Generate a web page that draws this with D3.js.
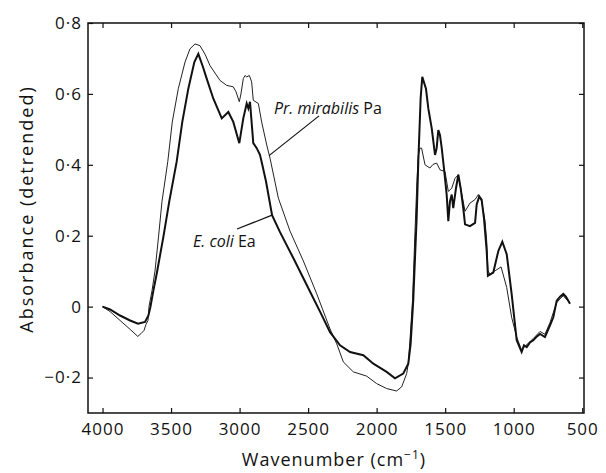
<!DOCTYPE html>
<html>
<head>
<meta charset="utf-8">
<script src="https://cdn.jsdelivr.net/npm/d3@7"></script>
<style>
  body { margin: 0; background: #fff; }
  text { font-family: "Open Sans", "Noto Sans", sans-serif; fill: #111; }
</style>
</head>
<body>
<div id="container"></div>
<script>
const width = 606,
    height = 473,
    margin = { top: 23, bottom: 60, left: 88, right: 22 };

// wavenumber (cm-1) and absorbance
const ecoliWave = [4000, 3945, 3872, 3799, 3741, 3690, 3665, 3650, 3629, 3605, 3555, 3513, 3459, 3418, 3374, 3330, 3301,
    3267, 3240, 3192, 3130, 3082, 3046, 3002, 2973, 2948, 2936, 2924, 2900, 2875, 2851, 2836, 2807, 2763,
    2705, 2608, 2510, 2413, 2340, 2267, 2194, 2097, 2024, 1927, 1866, 1806, 1769, 1752, 1733, 1708, 1696,
    1679, 1667, 1640, 1623, 1598, 1574, 1562, 1550, 1538, 1525, 1509, 1489, 1477, 1465, 1452, 1441, 1421,
    1404, 1387, 1368, 1355, 1319, 1282, 1270, 1251, 1234, 1217, 1197, 1188, 1149, 1112, 1083, 1051, 1015,
    978, 942, 925, 905, 881, 857, 830, 808, 772, 735, 711, 686, 662, 638, 619, 589]
const ecoliAbs = [0, -0.008, -0.025, -0.039, -0.048, -0.043, -0.025, 0, 0.045, 0.092, 0.199, 0.297, 0.409, 0.521, 0.615, 0.690, 0.713,
    0.676, 0.643, 0.587, 0.531, 0.549, 0.521, 0.461, 0.531, 0.573, 0.559, 0.578, 0.461, 0.447, 0.428, 0.403, 0.353, 0.258,
    0.210, 0.137, 0.061, -0.014, -0.072, -0.109, -0.128, -0.137, -0.161, -0.184, -0.202, -0.189, -0.161, -0.105, 0.017, 0.250, 0.409,
    0.587, 0.648, 0.615, 0.559, 0.503, 0.428, 0.447, 0.498, 0.484, 0.447, 0.391, 0.316, 0.241, 0.297, 0.316, 0.278, 0.334,
    0.372, 0.334, 0.278, 0.232, 0.227, 0.236, 0.288, 0.311, 0.302, 0.250, 0.157, 0.087, 0.096, 0.157, 0.183, 0.148, 0.036,
    -0.095, -0.128, -0.109, -0.114, -0.101, -0.095, -0.084, -0.077, -0.086, -0.053, -0.030, 0.017, 0.028, 0.036, 0.028, 0.008]

const mirabilisWave = [4000, 3945, 3872, 3799, 3743, 3719, 3697, 3683, 3668, 3661, 3639, 3617, 3591, 3566, 3524, 3491, 3447, 3398,
    3362, 3325, 3289, 3252, 3216, 3143, 3094, 3046, 3026, 3002, 2990, 2973, 2960, 2948, 2929, 2912, 2900, 2863,
    2839, 2802, 2778, 2717, 2632, 2535, 2437, 2340, 2291, 2243, 2170, 2073, 2000, 1927, 1854, 1817, 1781, 1769,
    1757, 1738, 1720, 1706, 1696, 1684, 1672, 1647, 1611, 1589, 1562, 1538, 1501, 1477, 1452, 1428, 1404, 1387,
    1355, 1319, 1282, 1258, 1234, 1209, 1197, 1188, 1173, 1136, 1092, 1051, 1015, 978, 942, 918, 896, 857, 808,
    772, 735, 711, 686, 662, 638, 619, 589]
const mirabilisAbs = [0, -0.014, -0.039, -0.064, -0.084, -0.076, -0.067, -0.050, -0.039, 0, 0.045, 0.101, 0.199, 0.297, 0.409, 0.521, 0.615, 0.690,
    0.727, 0.741, 0.736, 0.712, 0.680, 0.638, 0.624, 0.620, 0.606, 0.578, 0.600, 0.643, 0.652, 0.648, 0.652, 0.634, 0.582, 0.573,
    0.521, 0.456, 0.419, 0.306, 0.213, 0.129, 0.036, -0.063, -0.105, -0.156, -0.184, -0.196, -0.217, -0.231, -0.238, -0.226, -0.189, -0.161,
    -0.095, 0.017, 0.213, 0.353, 0.428, 0.447, 0.447, 0.400, 0.391, 0.401, 0.405, 0.386, 0.381, 0.325, 0.334, 0.362, 0.372, 0.334,
    0.269, 0.292, 0.302, 0.316, 0.297, 0.241, 0.185, 0.101, 0.092, 0.101, 0.112, 0.054, -0.030, -0.086, -0.123, -0.112, -0.104, -0.090, -0.070,
    -0.078, -0.045, -0.017, 0.011, 0.022, 0.031, 0.022, 0.011]

const xTicks = [4000, 3500, 3000, 2500, 2000, 1500, 1000, 500]
const yTicks = [-0.2, 0, 0.2, 0.4, 0.6, 0.8]

// labels with leader lines: text anchor (wave, abs), line from -> to
const labelNames = ["Pr. mirabilis", "E. coli"]
const labelSuffix = [" Pa", " Ea"]
const labelPos = [[2749, 0.544], [3340, 0.168]]
const leaderFrom = [[2420, 0.538], [3019, 0.219]]
const leaderTo = [[2785, 0.426], [2763, 0.258]]

const ecoli = ecoliWave.map((w, i) => ({ w: w, a: ecoliAbs[i] }))
const mirabilis = mirabilisWave.map((w, i) => ({ w: w, a: mirabilisAbs[i] }))

/**SCALES*/
const xScale = d3.scaleLinear()
    .domain([4106, 487])
    .range([margin.left, width - margin.right])

const yScale = d3.scaleLinear()
    .domain([-0.3, 0.8])
    .range([height - margin.bottom, margin.top])

const fmt = d => d === 0 ? "0" : (d < 0 ? "\u2212" : "") + d3.format(".1f")(Math.abs(d)).replace(".", "\u00b7")

const svg = d3.select("#container")
    .append("svg")
    .attr("width", width)
    .attr("height", height)

// inward ticks on all four sides
svg.append("g")
    .attr("class", "axis")
    .attr("transform", `translate(0,${height - margin.bottom})`)
    .call(d3.axisBottom(xScale).tickValues(xTicks).tickSizeInner(-5).tickSizeOuter(0).tickPadding(10).tickFormat(d3.format("d")))

svg.append("g")
    .attr("transform", `translate(0,${margin.top})`)
    .call(d3.axisTop(xScale).tickValues(xTicks).tickSizeInner(-5).tickSizeOuter(0).tickFormat(""))

svg.append("g")
    .attr("class", "axis")
    .attr("transform", `translate(${margin.left},0)`)
    .call(d3.axisLeft(yScale).tickValues(yTicks).tickSizeInner(-5).tickSizeOuter(0).tickPadding(6).tickFormat(fmt))

svg.append("g")
    .attr("transform", `translate(${width - margin.right},0)`)
    .call(d3.axisRight(yScale).tickValues(yTicks).tickSizeInner(-5).tickSizeOuter(0).tickFormat(""))

svg.selectAll(".domain").remove()
svg.selectAll(".tick line").attr("stroke", "#111").attr("stroke-width", 1.2)
svg.selectAll(".axis text")
    .style("font-size", "17px")
    .style("letter-spacing", "1px")
    .attr("fill", "#111")

// frame
svg.append("rect")
    .attr("x", margin.left)
    .attr("y", margin.top)
    .attr("width", width - margin.left - margin.right)
    .attr("height", height - margin.top - margin.bottom)
    .attr("fill", "none")
    .attr("stroke", "#111")
    .attr("stroke-width", 1.5)

const line = d3.line()
    .x(d => xScale(d.w))
    .y(d => yScale(d.a))

svg.append("path")
    .datum(mirabilis)
    .attr("d", line)
    .attr("fill", "none")
    .attr("stroke", "#222")
    .attr("stroke-width", 1)

svg.append("path")
    .datum(ecoli)
    .attr("d", line)
    .attr("fill", "none")
    .attr("stroke", "#111")
    .attr("stroke-width", 2)

// leader lines and labels
svg.selectAll(".leader")
    .data(leaderFrom)
    .join("line")
    .attr("class", "leader")
    .attr("x1", d => xScale(d[0]))
    .attr("y1", d => yScale(d[1]))
    .attr("x2", (d, i) => xScale(leaderTo[i][0]))
    .attr("y2", (d, i) => yScale(leaderTo[i][1]))
    .attr("stroke", "#111")
    .attr("stroke-width", 1.2)

const lbl = svg.selectAll(".lbl")
    .data(labelNames)
    .join("text")
    .attr("class", "lbl")
    .attr("x", (d, i) => xScale(labelPos[i][0]))
    .attr("y", (d, i) => yScale(labelPos[i][1]))
    .style("font-size", "16px")
lbl.append("tspan").style("font-style", "italic").text(d => d)
lbl.append("tspan").text((d, i) => labelSuffix[i])

// axis titles
svg.append("text")
    .attr("transform", `translate(33,${(margin.top + height - margin.bottom) / 2 - 9}) rotate(-90)`)
    .attr("text-anchor", "middle")
    .style("font-size", "18px")
    .style("letter-spacing", "2px")
    .text("Absorbance (detrended)")

const xt = svg.append("text")
    .attr("x", 334)
    .attr("y", 466)
    .attr("text-anchor", "middle")
    .style("font-size", "18px")
    .style("letter-spacing", "1px")
xt.append("tspan").text("Wavenumber (cm")
xt.append("tspan").attr("dy", -7).style("font-size", "12px").text("\u22121")
xt.append("tspan").attr("dy", 7).text(")")
</script>
</body>
</html>
